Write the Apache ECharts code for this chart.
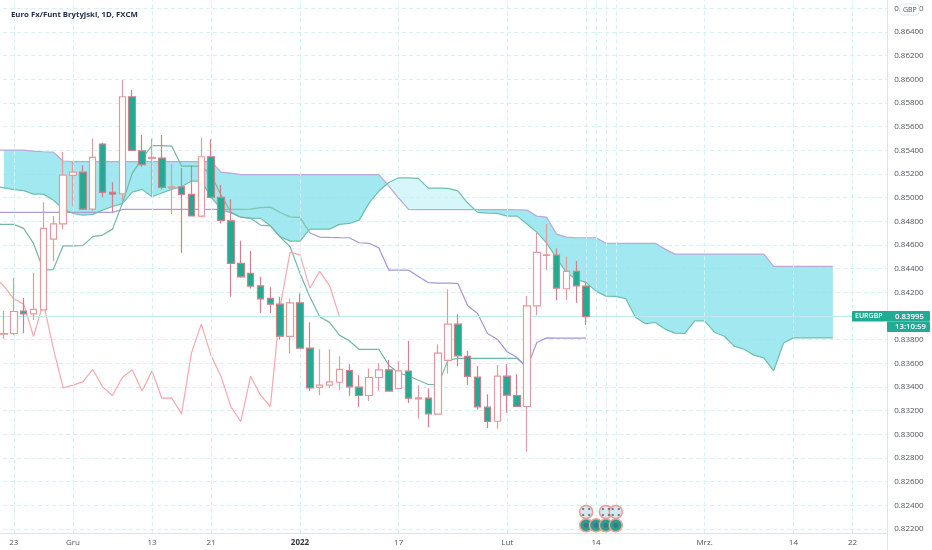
<!DOCTYPE html>
<html><head><meta charset="utf-8">
<style>html,body{margin:0;padding:0;background:#fff}#c{width:932px;height:550px}</style>
<script src="https://cdn.jsdelivr.net/npm/echarts@6/dist/echarts.min.js"></script>
</head><body><div id="c"></div>
<script>
// Slot 0 is the trading day just left of the picture; candle k sits in slot k+1.
const tickLabels = {2:'23',8:'Gru',16:'13',22:'21',31:'2022',41:'17',52:'Lut',61:'14',72:'Mrz.',81:'14',87:'22'};
const eventSlots = [60,62,63];
const yTicksMin = 0.82, yTicksMax = 0.868, yStep = 0.002;
const visibleLow = 0.82163;
const lastPrice = 0.83995;

const opens = [.83846,.83852,.84041,.84018,.84052,.84649,.84779,.85189,.85216,.84903,.85453,.85045,.85033,.85853,.85396,.85332,.85335,.85083,.85092,.85028,.84844,.85346,.85003,.84804,.84444,.84360,.84255,.84148,.84100,.83827,.84111,.83728,.83396,.83415,.83440,.83539,.83398,.83328,.83480,.83545,.83387,.83534,.83299,.83305,.83170,.83624,.83931,.83658,.83483,.83229,.83110,.83491,.83328,.83235,.84086,.84512,.84514,.84230,.84377,.84253];
const closes = [.83850,.84038,.84018,.84055,.84740,.84779,.85191,.85216,.84903,.85341,.85045,.85030,.85853,.85400,.85278,.85341,.85087,.85092,.85028,.84846,.85346,.85003,.84808,.84444,.84331,.84253,.84145,.84100,.83829,.84111,.83728,.83392,.83415,.83443,.83548,.83401,.83328,.83480,.83545,.83365,.83536,.83305,.83307,.83173,.83686,.83931,.83663,.83489,.83232,.83108,.83491,.83331,.83235,.84086,.84537,.84517,.84236,.84377,.84255,.83995];
const lows = [.83807,.83838,.83855,.83965,.84052,.84464,.84734,.84929,.84895,.84889,.85003,.84881,.84974,.85400,.85261,.85008,.85070,.84861,.84534,.84844,.84835,.84994,.84782,.84162,.84323,.84233,.84026,.84026,.83802,.83683,.83728,.83365,.83331,.83392,.83373,.83325,.83232,.83282,.83367,.83360,.83385,.83265,.83133,.83058,.83166,.83514,.83576,.83418,.83207,.83054,.83049,.83181,.83233,.82852,.84007,.84388,.84134,.84134,.84111,.83923];
const highs = [.84041,.84320,.84151,.84363,.84961,.84844,.85388,.85304,.85275,.85501,.85464,.85130,.85994,.85910,.85530,.85501,.85530,.85284,.85250,.85275,.85506,.85493,.85106,.84986,.84635,.84549,.84331,.84242,.84162,.84148,.84191,.83946,.83719,.83719,.83660,.83593,.83500,.83556,.83600,.83627,.83618,.83790,.83415,.83387,.83762,.84225,.84015,.83703,.83578,.83339,.83585,.83593,.83508,.84168,.84703,.84777,.84571,.84500,.84464,.84289];

const spanA = [.85098,.85083,.85068,.85060,.85030,.85030,.84980,.84903,.84866,.84853,.84859,.84895,.84925,.84950,.85047,.85070,.85008,.85039,.85070,.85092,.85140,.85140,.85005,.84903,.84870,.84835,.84827,.84825,.84762,.84671,.84633,.84633,.84734,.84734,.84734,.84774,.84782,.84810,.84954,.85056,.85128,.85168,.85168,.85163,.85081,.85081,.85079,.85058,.84954,.84876,.84870,.84867,.84844,.84844,.84777,.84709,.84616,.84489,.84366,.84311,.84282,.84210,.84168,.84165,.84147,.83990,.83935,.83945,.83889,.83855,.83852,.83959,.83959,.83863,.83829,.83745,.83719,.83669,.83646,.83536,.83771,.83815,.83815,.83815,.83815,.83815];
const spanB = [.85402,.85402,.85402,.85402,.85394,.85388,.85385,.85310,.85305,.85305,.85305,.85305,.85305,.85305,.85305,.85305,.85305,.85305,.85305,.85305,.85305,.85305,.85305,.85216,.85208,.85194,.85194,.85194,.85194,.85194,.85194,.85194,.85194,.85194,.85194,.85194,.85194,.85194,.85194,.85194,.85098,.84997,.84901,.84899,.84899,.84899,.84899,.84899,.84899,.84899,.84899,.84899,.84899,.84898,.84895,.84844,.84835,.84692,.84667,.84661,.84661,.84661,.84614,.84614,.84614,.84614,.84614,.84614,.84565,.84523,.84523,.84523,.84523,.84523,.84523,.84523,.84523,.84523,.84523,.84419,.84419,.84419,.84419,.84419,.84419,.84419];
const tenkan = [.84774,.84774,.84774,.84740,.84613,.84388,.84392,.84593,.84593,.84595,.84671,.84684,.84734,.84952,.85205,.85332,.85439,.85439,.85436,.85267,.85267,.85267,.85191,.85022,.84878,.84835,.84825,.84768,.84762,.84667,.84585,.84362,.84162,.83993,.83946,.83838,.83790,.83717,.83717,.83717,.83584,.83517,.83495,.83457,.83421,.83421,.83627,.83641,.83641,.83641,.83641,.83641,.83641,.83641,.83571];
const kijunLeft = [.84876,.84876,.84876,.84876,.84876,.84876,.84876,.84876,.84876,.84876,.84876,.84876,.84876,.84901,.84901,.84901,.84901,.84901,.84901,.84901,.84901,.84901,.84901,.84901];
const kijunInCloud = [.84901,.84901,.84901,.84903,.84916,.84920,.84874,.84838,.84833,.84701];
const kijunRight = [.84701,.84667,.84664,.84662,.84661,.84619,.84614,.84574,.84388,.84388,.84388,.84333,.84282,.84278,.84278,.84275,.84086,.84021,.83852,.83804,.83697,.83649,.83559,.83776,.83815,.83812,.83812,.83812,.83812];
const kijunInCloudStart = 23, kijunRightStart = 32;
const chikou = closes.slice(24);
const eventLowPrice = 0.82231, eventHighPrice = 0.82344;
const eventLowSlots = [60,61,62,63], eventHighSlots = [60,62,63];

const slotCount = 91;
const categories = Array.from({length:slotCount},(_,i)=>'d'+i);
const pad = (start, arr) => new Array(start).fill('-').concat(arr);
const gridColor = '#d2f3f6';
const font = '"Open Sans", sans-serif';

function cloudItem(params, api){
  if(params.dataIndex !== 0) return null;
  const up='rgba(136,225,236,0.78)', down='rgba(190,240,245,0.62)';
  const children=[]; let top=[], bot=[], sign=null;
  const flush=()=>{ if(top.length>1) children.push({type:'polygon',shape:{points:top.concat(bot.slice().reverse())},style:{fill:sign>0?up:down,stroke:null}}); };
  for(let k=1;k<spanA.length;k++){
    const s = spanB[k]>=spanA[k]?1:-1;
    if(sign!==null && s!==sign){
      const d0=spanB[k-1]-spanA[k-1], d1=spanB[k]-spanA[k], t=d0/(d0-d1);
      const c=api.coord([k-1+t, spanA[k-1]+t*(spanA[k]-spanA[k-1])]);
      top.push(c); bot.push(c); flush(); top=[c]; bot=[c];
    }
    sign=s;
    top.push(api.coord([k,spanB[k]])); bot.push(api.coord([k,spanA[k]]));
  }
  flush();
  return {type:'group',children};
}
const line=(name,data,color,z)=>({name,type:'line',data,showSymbol:false,symbol:'none',silent:true,z:z||3,connectNulls:false,lineStyle:{color,width:1.2},animation:false});

const vertSlots = Object.keys(tickLabels).map(Number).concat(eventSlots);
const option = {
  animation:false, backgroundColor:'#fff',
  title:{text:'Euro Fx/Funt Brytyjski, 1D, FXCM',left:6,top:5.5,textStyle:{fontFamily:font,fontSize:7.8,fontWeight:700,color:'#1e2a4a'}},
  grid:{left:-10.87,width:898,top:-15.3,height:567.9,outerBoundsMode:'none',containLabel:false},
  xAxis:{type:'category',data:categories,boundaryGap:true,position:'bottom',offset:-19.6,
    axisLine:{onZero:false,lineStyle:{color:'#e0e3eb',width:1}},axisTick:{show:false},splitLine:{show:false},
    axisLabel:{interval:0,margin:6,hideOverlap:false,color:'#50535e',fontFamily:font,fontSize:8,
      formatter:(v,i)=>{const t=tickLabels[i]; return !t?'':(t==='2022'?'{b|2022}':t);},
      rich:{b:{fontWeight:700,color:'#333',fontFamily:font,fontSize:8}}}},
  yAxis:{type:'value',position:'right',min:yTicksMin,max:yTicksMax,interval:yStep,scale:true,
    axisLine:{show:true,onZero:false,lineStyle:{color:'#e0e3eb'}},axisTick:{show:false},
    axisLabel:{margin:7,color:'#50535e',fontFamily:font,fontSize:8,padding:[2,0,0,0],formatter:v=>v<visibleLow?'':v.toFixed(5)},
    splitLine:{show:true,lineStyle:{color:gridColor,type:[4,3],width:1}}},
  series:[
    {type:'line',data:[],silent:true,z:1,animation:false,
      markLine:{silent:true,symbol:'none',animation:false,label:{show:false},
        data:vertSlots.map(s=>[{coord:[s,visibleLow],lineStyle:{color:gridColor,type:[4,3],width:1}},{coord:[s,yTicksMax],lineStyle:{color:gridColor,type:[4,3],width:1}}])
          .concat([{yAxis:lastPrice,lineStyle:{color:'#bdece8',type:'solid',width:1}}])}},
    line('Kijun',pad(0,kijunLeft),'#ab9bd6',2),
    {name:'Cloud',type:'custom',renderItem:cloudItem,data:spanA.map((a,k)=>[k,a,spanB[k]]),encode:{x:0,y:[1,2]},silent:true,clip:true,z:2,animation:false},
    line('Span A',spanA,'#6dc0aa'),
    line('Span B',spanB,'#bda6dc'),
    line('Tenkan',tenkan,'#72b9a4'),
    line('Kijun in cloud',pad(kijunInCloudStart,kijunInCloud),'#7cc4b4'),
    line('Kijun right',pad(kijunRightStart,kijunRight),'#a596d6'),
    line('Chikou',chikou,'#f5a9ae'),
    {name:'EURGBP',type:'candlestick',barWidth:7,z:5,silent:true,animation:false,
      data:[['-','-','-','-']].concat(opens.map((o,k)=>[o,closes[k],lows[k],highs[k]])),
      itemStyle:{color:'#ffffff',color0:'#22ab94',borderColor:'#e39a9f',borderColor0:'#cf8088',borderWidth:1.2}},
    {name:'Events low',type:'scatter',z:6,silent:true,animation:false,symbol:'circle',symbolSize:13,
      data:eventLowSlots.map(s=>[s,eventLowPrice]),itemStyle:{color:'#2f9c94',borderColor:'#f0a48e',borderWidth:1.5,opacity:1}},
    {name:'Events high',type:'scatter',z:6,silent:true,animation:false,symbol:'circle',symbolSize:13,
      data:eventHighSlots.map(s=>[s,eventHighPrice]),itemStyle:{color:'#d9e6ee',borderColor:'#ee9a90',borderWidth:1.5,opacity:1}},
    {name:'Events high dots',type:'scatter',z:7,silent:true,animation:false,symbolSize:8,
      symbol:'path://M0 0h2v2H0zM6 0h2v2H6zM0 6h2v2H0zM6 6h2v2H6z',
      data:eventHighSlots.map(s=>[s,eventHighPrice]),itemStyle:{color:'#3b6d86'}},
    {name:'Events low core',type:'scatter',z:7,silent:true,animation:false,symbol:'circle',symbolSize:5,
      data:eventLowSlots.map(s=>[s,eventLowPrice]),itemStyle:{color:'#3f6f80'}}
  ]
};
const chart = echarts.init(document.getElementById('c'),null,{renderer:'canvas'});
chart.setOption(option);
const py = chart.convertToPixel({yAxisIndex:0},lastPrice);
const tagTop = py-5.5;
const txt=(x,y,t,size,fill,weight)=>({type:'text',z:101,x,y,style:{text:t,fontFamily:font,fontSize:size,fontWeight:weight||500,fill,textVerticalAlign:'middle'}});
chart.setOption({graphic:[
  {type:'rect',z:100,shape:{x:900,y:4,width:19,height:11,r:3},style:{fill:'#fff',stroke:'#e0e3eb'}},
  txt(903,9.7,'GBP',7,'#50535e'),
  {type:'rect',z:100,shape:{x:852,y:tagTop,width:78,height:10.5,r:1},style:{fill:'#22ab94'}},
  {type:'rect',z:100,shape:{x:887,y:tagTop+10.5,width:43,height:10.5,r:1},style:{fill:'#22ab94'}},
  txt(855,tagTop+5.4,'EURGBP',7,'#fff',600),
  txt(895,tagTop+5.4,lastPrice.toFixed(5),7.8,'#fff',600),
  txt(895,tagTop+15.8,'13:10:59',7.8,'#fff',600)
]});
</script></body></html>
